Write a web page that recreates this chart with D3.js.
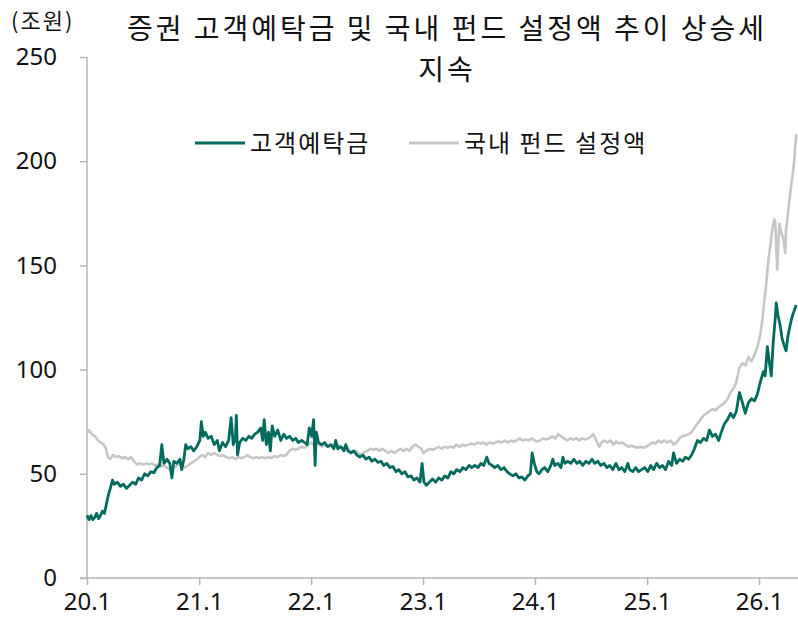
<!DOCTYPE html>
<html>
<head>
<meta charset="utf-8">
<script src="https://cdn.jsdelivr.net/npm/d3@7"></script>
<style>
  body { margin: 0; background: #fff; }
  text { font-family: "Noto Sans CJK KR", "Noto Sans", sans-serif; fill: #111; }
  .num { font-family: "Noto Sans", "Open Sans", sans-serif; }
</style>
</head>
<body>
<div class="canvas"></div>
<script>
// data (조원)
const deposit = [
  ["2020-01-01", 30], ["2020-01-08", 28], ["2020-01-14", 30], ["2020-01-20", 28], ["2020-01-26", 29],
  ["2020-02-01", 31], ["2020-02-08", 28.5], ["2020-02-14", 30], ["2020-02-20", 32], ["2020-02-27", 31],
  ["2020-03-05", 36], ["2020-03-11", 40], ["2020-03-17", 43], ["2020-03-24", 47], ["2020-03-30", 45],
  ["2020-04-09", 46], ["2020-04-19", 44], ["2020-04-29", 45], ["2020-05-09", 43], ["2020-05-19", 44.5],
  ["2020-05-29", 46], ["2020-06-08", 45], ["2020-06-17", 48], ["2020-06-27", 47], ["2020-07-07", 50],
  ["2020-07-17", 49], ["2020-07-27", 51], ["2020-08-06", 50.5], ["2020-08-16", 53], ["2020-08-25", 54],
  ["2020-09-01", 64], ["2020-09-08", 55], ["2020-09-18", 57], ["2020-09-27", 55], ["2020-10-04", 48],
  ["2020-10-10", 56], ["2020-10-20", 55], ["2020-10-30", 57], ["2020-11-05", 52], ["2020-11-12", 57],
  ["2020-11-18", 64], ["2020-11-25", 62], ["2020-12-05", 63], ["2020-12-14", 61], ["2020-12-24", 63],
  ["2021-01-03", 66], ["2021-01-08", 75], ["2021-01-14", 68], ["2021-01-21", 70], ["2021-01-30", 67],
  ["2021-02-09", 68], ["2021-02-19", 64], ["2021-03-01", 66], ["2021-03-08", 61], ["2021-03-18", 65],
  ["2021-03-28", 63], ["2021-04-07", 66], ["2021-04-15", 77], ["2021-04-22", 64], ["2021-04-29", 67],
  ["2021-05-02", 78], ["2021-05-06", 59], ["2021-05-13", 65], ["2021-05-23", 67], ["2021-06-02", 66],
  ["2021-06-12", 68], ["2021-06-21", 67], ["2021-07-01", 69], ["2021-07-11", 70], ["2021-07-21", 72],
  ["2021-07-27", 66], ["2021-08-01", 76], ["2021-08-08", 64], ["2021-08-15", 70], ["2021-08-21", 61],
  ["2021-08-27", 73], ["2021-09-04", 68], ["2021-09-14", 71], ["2021-09-24", 66], ["2021-10-04", 69],
  ["2021-10-13", 67], ["2021-10-23", 68], ["2021-11-02", 66], ["2021-11-12", 67], ["2021-11-20", 65],
  ["2021-12-01", 66], ["2021-12-11", 65], ["2021-12-19", 64], ["2021-12-26", 72], ["2022-01-03", 68],
  ["2022-01-09", 76], ["2022-01-14", 54], ["2022-01-18", 70], ["2022-01-25", 65], ["2022-02-04", 64],
  ["2022-02-14", 65], ["2022-02-24", 63], ["2022-03-06", 64], ["2022-03-16", 62], ["2022-03-22", 66],
  ["2022-03-29", 62], ["2022-04-08", 63], ["2022-04-18", 61], ["2022-04-24", 64], ["2022-05-01", 61],
  ["2022-05-11", 60], ["2022-05-20", 61], ["2022-05-30", 59], ["2022-06-09", 58], ["2022-06-19", 59],
  ["2022-06-29", 57], ["2022-07-09", 58], ["2022-07-18", 56], ["2022-07-28", 57], ["2022-08-07", 55.5],
  ["2022-08-17", 56], ["2022-08-26", 54], ["2022-09-05", 55], ["2022-09-15", 53], ["2022-09-25", 53.5],
  ["2022-10-05", 51], ["2022-10-14", 52], ["2022-10-24", 50], ["2022-11-03", 51], ["2022-11-13", 48.5],
  ["2022-11-23", 49], ["2022-12-02", 47], ["2022-12-12", 48], ["2022-12-22", 46], ["2022-12-29", 55],
  ["2023-01-04", 46], ["2023-01-12", 44.5], ["2023-01-22", 46], ["2023-02-01", 47.5], ["2023-02-11", 46],
  ["2023-02-21", 48], ["2023-03-03", 47], ["2023-03-13", 49], ["2023-03-23", 48], ["2023-04-02", 51],
  ["2023-04-11", 50], ["2023-04-21", 52], ["2023-05-01", 51], ["2023-05-11", 53], ["2023-05-21", 52],
  ["2023-05-31", 54], ["2023-06-09", 53], ["2023-06-19", 54], ["2023-06-29", 53], ["2023-07-09", 55],
  ["2023-07-18", 54], ["2023-07-28", 58], ["2023-08-04", 55], ["2023-08-14", 54], ["2023-08-23", 53],
  ["2023-09-02", 54], ["2023-09-12", 52], ["2023-09-22", 53], ["2023-10-02", 51], ["2023-10-11", 50],
  ["2023-10-21", 49], ["2023-10-31", 50], ["2023-11-10", 48], ["2023-11-19", 48.5], ["2023-11-29", 47],
  ["2023-12-09", 49], ["2023-12-17", 50], ["2023-12-23", 60], ["2023-12-30", 55], ["2024-01-07", 51],
  ["2024-01-14", 50], ["2024-01-24", 52], ["2024-02-02", 53], ["2024-02-12", 51], ["2024-02-22", 54],
  ["2024-02-28", 57], ["2024-03-06", 54], ["2024-03-16", 55], ["2024-03-26", 53], ["2024-04-01", 58],
  ["2024-04-08", 55], ["2024-04-17", 56], ["2024-04-27", 55], ["2024-05-07", 57], ["2024-05-17", 55],
  ["2024-05-26", 56], ["2024-06-05", 54], ["2024-06-15", 56], ["2024-06-25", 55], ["2024-07-05", 57],
  ["2024-07-14", 55], ["2024-07-24", 56], ["2024-08-03", 54], ["2024-08-13", 55], ["2024-08-23", 53],
  ["2024-09-01", 54], ["2024-09-11", 52], ["2024-09-21", 55], ["2024-10-01", 52], ["2024-10-10", 53],
  ["2024-10-20", 51], ["2024-10-30", 55], ["2024-11-05", 52], ["2024-11-15", 51], ["2024-11-25", 53],
  ["2024-12-04", 51], ["2024-12-14", 52], ["2024-12-24", 53], ["2025-01-03", 51], ["2025-01-13", 54],
  ["2025-01-22", 52], ["2025-02-01", 55], ["2025-02-11", 53], ["2025-02-20", 54], ["2025-03-02", 52],
  ["2025-03-12", 56], ["2025-03-22", 54], ["2025-03-28", 60], ["2025-04-07", 55], ["2025-04-17", 57],
  ["2025-04-27", 56], ["2025-05-06", 58], ["2025-05-16", 57], ["2025-05-26", 59], ["2025-06-04", 62],
  ["2025-06-14", 66], ["2025-06-24", 65], ["2025-07-04", 67], ["2025-07-14", 66], ["2025-07-23", 71],
  ["2025-08-02", 68], ["2025-08-12", 69], ["2025-08-22", 66], ["2025-08-31", 70], ["2025-09-10", 74],
  ["2025-09-20", 76], ["2025-09-30", 79], ["2025-10-09", 77], ["2025-10-19", 80], ["2025-10-29", 89],
  ["2025-11-08", 84], ["2025-11-17", 79], ["2025-11-27", 84], ["2025-12-07", 86], ["2025-12-17", 85],
  ["2025-12-26", 88], ["2026-01-05", 94], ["2026-01-15", 99], ["2026-01-21", 97], ["2026-01-28", 111],
  ["2026-02-03", 104], ["2026-02-10", 97], ["2026-02-16", 113], ["2026-02-23", 125], ["2026-02-26", 132],
  ["2026-03-04", 126], ["2026-03-11", 121], ["2026-03-17", 115], ["2026-03-23", 112], ["2026-03-30", 109],
  ["2026-04-05", 116], ["2026-04-12", 121], ["2026-04-18", 125], ["2026-04-25", 128], ["2026-05-02", 131]
];

const fund = [
  ["2020-01-01", 70], ["2020-01-08", 71], ["2020-01-17", 69], ["2020-01-27", 68], ["2020-02-06", 66],
  ["2020-02-15", 65], ["2020-02-25", 64], ["2020-03-03", 62], ["2020-03-09", 58], ["2020-03-16", 57],
  ["2020-03-26", 59], ["2020-04-04", 58], ["2020-04-14", 58.5], ["2020-04-24", 57.5], ["2020-05-04", 58],
  ["2020-05-14", 57], ["2020-05-23", 58], ["2020-06-02", 56], ["2020-06-12", 54.5], ["2020-06-22", 55],
  ["2020-07-02", 54.5], ["2020-07-12", 55], ["2020-07-21", 54.5], ["2020-07-31", 55], ["2020-08-10", 54],
  ["2020-08-20", 54.5], ["2020-08-30", 53.5], ["2020-09-08", 54], ["2020-09-18", 53], ["2020-09-28", 52],
  ["2020-10-08", 53], ["2020-10-17", 53.5], ["2020-10-27", 55], ["2020-11-06", 54], ["2020-11-16", 53],
  ["2020-11-25", 54], ["2020-12-05", 55], ["2020-12-15", 56], ["2020-12-25", 57], ["2021-01-01", 58],
  ["2021-01-11", 59], ["2021-01-20", 58], ["2021-01-30", 60], ["2021-02-09", 59], ["2021-02-19", 60],
  ["2021-03-01", 59], ["2021-03-11", 58.5], ["2021-03-20", 59], ["2021-03-30", 58], ["2021-04-09", 57.5],
  ["2021-04-19", 58], ["2021-04-29", 57], ["2021-05-09", 58], ["2021-05-18", 57.5], ["2021-05-28", 58],
  ["2021-06-07", 59], ["2021-06-17", 58], ["2021-06-27", 57.5], ["2021-07-06", 58], ["2021-07-16", 57.5],
  ["2021-07-26", 58], ["2021-08-05", 57.5], ["2021-08-15", 58], ["2021-08-24", 57.5], ["2021-09-03", 58.5],
  ["2021-09-13", 58], ["2021-09-23", 59], ["2021-10-03", 58.5], ["2021-10-12", 59], ["2021-10-22", 61],
  ["2021-11-01", 62], ["2021-11-11", 61.5], ["2021-11-21", 62], ["2021-11-30", 63], ["2021-12-10", 62.5],
  ["2021-12-20", 63.5], ["2021-12-30", 65], ["2022-01-08", 64], ["2022-01-18", 65.5], ["2022-01-28", 64],
  ["2022-02-07", 63], ["2022-02-17", 64], ["2022-02-26", 63], ["2022-03-08", 64], ["2022-03-18", 63],
  ["2022-03-28", 64], ["2022-04-07", 63], ["2022-04-16", 62], ["2022-04-26", 63], ["2022-05-06", 61],
  ["2022-05-16", 60.5], ["2022-05-25", 61], ["2022-06-04", 60], ["2022-06-14", 59], ["2022-06-24", 60.5],
  ["2022-07-04", 61], ["2022-07-13", 62], ["2022-07-23", 61.5], ["2022-08-02", 62], ["2022-08-12", 61],
  ["2022-08-21", 62], ["2022-08-31", 61], ["2022-09-10", 60], ["2022-09-20", 61], ["2022-09-30", 60],
  ["2022-10-09", 61], ["2022-10-19", 62], ["2022-10-29", 61], ["2022-11-08", 62], ["2022-11-18", 61],
  ["2022-11-27", 63], ["2022-12-07", 64], ["2022-12-17", 63], ["2022-12-27", 62], ["2023-01-02", 60],
  ["2023-01-12", 61], ["2023-01-22", 62], ["2023-02-01", 61.5], ["2023-02-10", 62], ["2023-02-20", 63],
  ["2023-03-02", 62], ["2023-03-12", 63], ["2023-03-22", 62.5], ["2023-04-01", 63], ["2023-04-10", 62.5],
  ["2023-04-20", 64], ["2023-04-30", 63], ["2023-05-10", 64], ["2023-05-19", 63.5], ["2023-05-29", 64],
  ["2023-06-08", 64.5], ["2023-06-18", 64], ["2023-06-28", 65], ["2023-07-07", 64.5], ["2023-07-17", 65],
  ["2023-07-27", 64], ["2023-08-06", 65], ["2023-08-16", 64.5], ["2023-08-25", 65], ["2023-09-04", 65.5],
  ["2023-09-14", 65], ["2023-09-24", 66], ["2023-10-04", 65], ["2023-10-13", 66], ["2023-10-23", 65.5],
  ["2023-11-02", 66], ["2023-11-12", 67], ["2023-11-22", 66], ["2023-12-01", 66.5], ["2023-12-11", 66],
  ["2023-12-21", 67], ["2023-12-31", 66], ["2024-01-08", 65.5], ["2024-01-18", 66], ["2024-01-28", 67],
  ["2024-02-07", 66.5], ["2024-02-16", 67], ["2024-02-26", 68], ["2024-03-07", 67], ["2024-03-17", 69],
  ["2024-03-27", 68], ["2024-04-05", 67], ["2024-04-15", 66], ["2024-04-25", 67], ["2024-05-05", 66.5],
  ["2024-05-15", 67], ["2024-05-24", 66], ["2024-06-03", 67], ["2024-06-13", 66.5], ["2024-06-23", 67],
  ["2024-07-03", 68], ["2024-07-09", 69], ["2024-07-16", 67], ["2024-07-22", 65], ["2024-07-29", 63],
  ["2024-08-05", 65], ["2024-08-14", 66], ["2024-08-24", 65], ["2024-09-03", 66], ["2024-09-13", 64],
  ["2024-09-23", 65.5], ["2024-10-02", 64.5], ["2024-10-12", 65], ["2024-10-22", 64], ["2024-11-01", 63],
  ["2024-11-10", 63.5], ["2024-11-20", 63], ["2024-11-30", 62.5], ["2024-12-10", 63], ["2024-12-20", 62.5],
  ["2024-12-29", 63], ["2025-01-08", 64], ["2025-01-18", 65], ["2025-01-28", 64.5], ["2025-02-07", 66],
  ["2025-02-16", 65], ["2025-02-26", 66], ["2025-03-08", 65], ["2025-03-18", 66], ["2025-03-28", 64],
  ["2025-04-07", 65], ["2025-04-16", 67], ["2025-04-26", 68], ["2025-05-06", 68.5], ["2025-05-16", 69],
  ["2025-05-26", 70], ["2025-06-04", 72], ["2025-06-14", 74], ["2025-06-24", 76], ["2025-07-04", 78],
  ["2025-07-14", 79], ["2025-07-23", 80], ["2025-08-02", 81], ["2025-08-12", 80.5], ["2025-08-22", 82],
  ["2025-09-01", 83], ["2025-09-10", 84], ["2025-09-20", 86], ["2025-09-30", 89], ["2025-10-10", 91],
  ["2025-10-19", 94], ["2025-10-29", 101], ["2025-11-08", 103], ["2025-11-18", 102], ["2025-11-27", 106],
  ["2025-12-07", 104], ["2025-12-17", 107], ["2025-12-27", 111], ["2026-01-05", 117], ["2026-01-12", 124],
  ["2026-01-18", 133], ["2026-01-25", 142], ["2026-01-31", 152], ["2026-02-07", 160], ["2026-02-13", 167],
  ["2026-02-20", 172], ["2026-02-23", 170], ["2026-03-01", 148], ["2026-03-08", 170], ["2026-03-14", 166],
  ["2026-03-21", 163], ["2026-03-27", 156], ["2026-03-30", 167], ["2026-04-06", 176], ["2026-04-12", 184],
  ["2026-04-19", 192], ["2026-04-25", 199], ["2026-05-02", 213]
];

const yTicks = [0, 50, 100, 150, 200, 250];
const xTickYears = [2020, 2021, 2022, 2023, 2024, 2025, 2026];
const seriesNames = ["고객예탁금", "국내 펀드 설정액"];
const seriesColors = ["#006b5d", "#c6c6c6"];

const parse = d3.timeParse("%Y-%m-%d");

const svg = d3.select('.canvas')
  .append('svg')
    .attr('width', 798)
    .attr('height', 618);

// plot area
const plot = {left: 87, right: 798, top: 57, bottom: 578};

const x = d3.scaleTime()
  .domain([new Date(2020, 0, 1), new Date(2026, 4, 8)])
  .range([plot.left, plot.right]);

const y = d3.scaleLinear()
  .domain([0, 250])
  .range([plot.bottom, plot.top]);

// title (two lines)
svg.append('text')
  .attr('x', 447).attr('y', 39)
  .attr('text-anchor', 'middle')
  .attr('font-size', 28)
  .attr('letter-spacing', 3)
  .text('증권 고객예탁금 및 국내 펀드 설정액 추이 상승세');
svg.append('text')
  .attr('x', 447).attr('y', 80)
  .attr('text-anchor', 'middle')
  .attr('font-size', 28)
  .attr('letter-spacing', 3)
  .text('지속');

svg.append('text')
  .attr('x', 11).attr('y', 29)
  .attr('font-size', 22)
  .attr('letter-spacing', 2)
  .text('(조원)');

// axes
const yAxis = d3.axisLeft(y)
  .tickValues(yTicks)
  .tickSize(7)
  .tickPadding(23);

const xAxis = d3.axisBottom(x)
  .tickValues(xTickYears.map(yr => new Date(yr, 0, 1)))
  .tickFormat(d => String(d.getFullYear()).slice(2) + '.1')
  .tickSize(7)
  .tickPadding(8);

const yAxisGroup = svg.append('g')
  .attr('transform', `translate(${plot.left}, 0)`)
  .call(yAxis);

const xAxisGroup = svg.append('g')
  .attr('transform', `translate(0, ${plot.bottom})`)
  .call(xAxis);

[yAxisGroup, xAxisGroup].forEach(g => {
  g.select('.domain').attr('stroke', '#b4b4b4').attr('stroke-width', 1.5);
  g.selectAll('.tick line').attr('stroke', '#b4b4b4').attr('stroke-width', 1.5);
  g.selectAll('.tick text')
    .attr('class', 'num')
    .attr('font-size', 24)
    .attr('fill', '#111');
});
// y axis line reaches 250, x axis line starts left of y axis
yAxisGroup.select('.domain').attr('d', `M0,${plot.top}V${plot.bottom}`);
xAxisGroup.select('.domain').attr('d', `M${plot.left - 7},0H${plot.right}`);

// lines
const line = d3.line()
  .x(d => x(parse(d[0])))
  .y(d => y(d[1]));

svg.append('path')
  .datum(fund)
  .attr('fill', 'none')
  .attr('stroke', seriesColors[1])
  .attr('stroke-width', 2.6)
  .attr('stroke-linejoin', 'round')
  .attr('d', line);

svg.append('path')
  .datum(deposit)
  .attr('fill', 'none')
  .attr('stroke', seriesColors[0])
  .attr('stroke-width', 2.8)
  .attr('stroke-linejoin', 'round')
  .attr('d', line);

// legend
const legendX = [195, 409];
const legend = svg.selectAll('.legend')
  .data(seriesNames)
  .enter()
  .append('g')
    .attr('class', 'legend')
    .attr('transform', (d, i) => `translate(${legendX[i]}, 143)`);

legend.append('line')
  .attr('x1', 0).attr('x2', 50)
  .attr('stroke', (d, i) => seriesColors[i])
  .attr('stroke-width', 3);

legend.append('text')
  .attr('x', 55).attr('y', 9)
  .attr('font-size', 24)
  .attr('letter-spacing', 2)
  .text(d => d);
</script>
</body>
</html>
